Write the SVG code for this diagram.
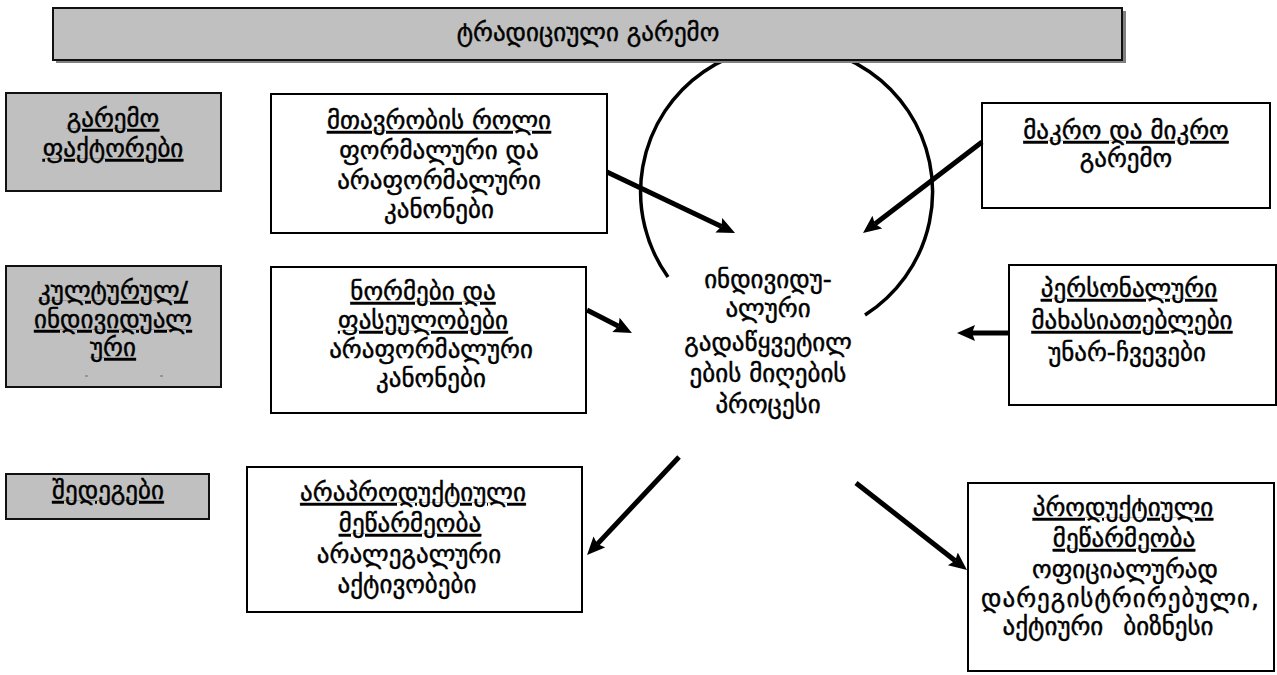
<svg xmlns="http://www.w3.org/2000/svg" width="1277" height="675" viewBox="0 0 1277 675">
<style>
text{font-family:"DejaVu Sans","Noto Sans",sans-serif;font-size:25px;font-weight:normal;fill:#000;stroke:#000;stroke-width:0.45;text-anchor:middle}
.u{text-decoration:underline}
.gray{fill:#c0c0c0;stroke:#111;stroke-width:2}
.box{fill:#fff;stroke:#000;stroke-width:2}
.conn line{stroke:#000;stroke-width:5;marker-end:url(#ah)}
</style>
<defs>
<marker id="ah" markerUnits="userSpaceOnUse" markerWidth="20" markerHeight="18" refX="3" refY="8" orient="auto">
<path d="M0,0 L18,8 L0,16 L3,8 z" fill="#000"/>
</marker>
</defs>
<rect width="1277" height="675" fill="#fff"/>
<path id="cycle" d="M668,277 A146,146 0 1 1 865,315" fill="none" stroke="#000" stroke-width="3.5"/>
<g id="title">
<rect x="56" y="11" width="1070" height="52" fill="#808080"/>
<rect x="53" y="8" width="1069" height="52" class="gray" stroke-width="2.5"/>
<text x="588" y="41">ტრადიციული გარემო</text>
</g>
<g id="env-factors">
<rect x="6" y="93" width="215" height="98" class="gray"/>
<text x="113" y="127" class="u">გარემო</text>
<text x="113" y="157" class="u">ფაქტორები</text>
</g>
<g id="cultural">
<rect x="6" y="266" width="215" height="121" class="gray"/>
<text x="113" y="299" class="u">კულტურულ/</text>
<text x="113" y="328" class="u">ინდივიდუალ</text>
<text x="113" y="356" class="u">ური</text>
<line x1="85" y1="376" x2="88" y2="376" stroke="#888" stroke-width="1.5"/>
<line x1="160" y1="376" x2="163" y2="376" stroke="#888" stroke-width="1.5"/>
</g>
<g id="results">
<rect x="6" y="474" width="203" height="45" class="gray"/>
<text x="108" y="499" class="u">შედეგები</text>
</g>
<g id="government">
<rect x="271" y="94" width="336" height="139" class="box"/>
<text x="439" y="129" class="u">მთავრობის როლი</text>
<text x="439" y="159">ფორმალური და</text>
<text x="439" y="189">არაფორმალური</text>
<text x="439" y="218">კანონები</text>
</g>
<g id="norms">
<rect x="271" y="267" width="315" height="146" class="box"/>
<text x="423" y="300" class="u">ნორმები და</text>
<text x="423" y="329" class="u">ფასეულობები</text>
<text x="431" y="358">არაფორმალური</text>
<text x="431" y="387">კანონები</text>
</g>
<g id="macro">
<rect x="982" y="103" width="288" height="105" class="box"/>
<text x="1126" y="139" class="u">მაკრო და მიკრო</text>
<text x="1126" y="167">გარემო</text>
</g>
<g id="personal">
<rect x="1009" y="265" width="267" height="140" class="box"/>
<text x="1129" y="297" class="u">პერსონალური</text>
<text x="1132" y="329" class="u">მახასიათებლები</text>
<text x="1127" y="361">უნარ-ჩვევები</text>
</g>
<g id="process" style="font-size:24px">
<text x="768" y="288">ინდივიდუ-</text>
<text x="768" y="317">ალური</text>
<text x="768" y="351">გადაწყვეტილ</text>
<text x="768" y="382">ების მიღების</text>
<text x="768" y="413">პროცესი</text>
</g>
<g id="unproductive">
<rect x="247" y="467" width="335" height="145" class="box"/>
<text x="413" y="501" class="u">არაპროდუქტიული</text>
<text x="410" y="532" class="u">მეწარმეობა</text>
<text x="409" y="563">არალეგალური</text>
<text x="407" y="593">აქტივობები</text>
</g>
<g id="productive">
<rect x="968" y="483" width="306" height="188" class="box"/>
<text x="1123" y="516" class="u">პროდუქტიული</text>
<text x="1124" y="547" class="u">მეწარმეობა</text>
<text x="1125" y="578">ოფიციალურად</text>
<text x="1120" y="607" textLength="278">დარეგისტრირებული,</text>
<text x="1108" y="635">აქტიური <tspan dx="12">ბიზნესი</tspan></text>
</g>
<g id="connectors" class="conn">
<line x1="607" y1="172" x2="721.5" y2="226.5"/>
<line x1="982" y1="142" x2="874.9" y2="223.9"/>
<line x1="587" y1="310" x2="618.6" y2="326.2"/>
<line x1="1009" y1="333" x2="972" y2="333"/>
<line x1="679" y1="457" x2="597.3" y2="544.1"/>
<line x1="856" y1="483" x2="955.2" y2="560.7"/>
</g>
</svg>
